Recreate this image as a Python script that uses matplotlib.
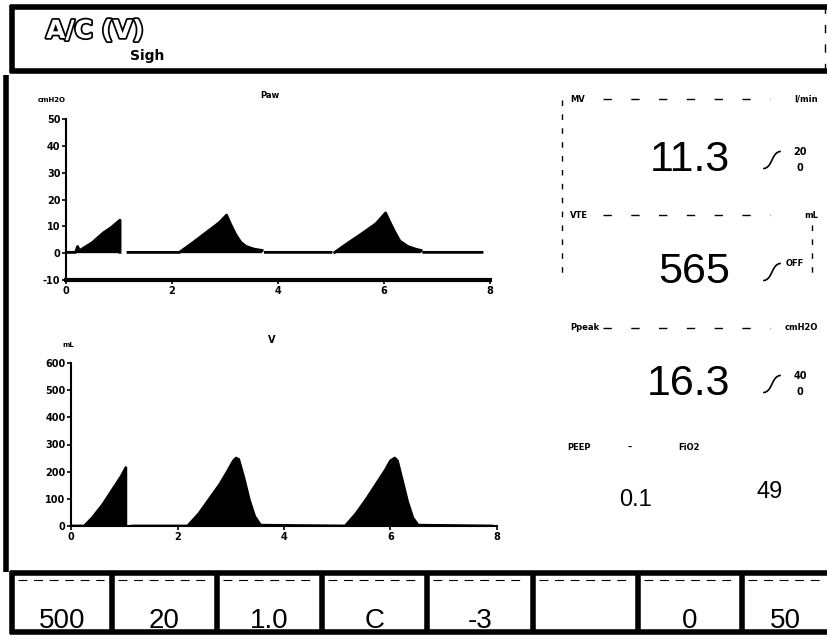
import numpy as np
import matplotlib
matplotlib.use('Agg')
import matplotlib.pyplot as plt
import matplotlib.patheffects as pe

nan = np.nan

# Airway pressure waveform (cmH2O), NaN marks gaps in the trace
paw_time = [0.0, 0.18, 0.22, 0.25, 0.3, 0.5, 0.7, 0.85, 1.0, 1.02, 1.02, nan,
            1.17, 2.14, 2.4, 2.7, 2.9, 3.03, 3.1, 3.2, 3.3, 3.4, 3.55, 3.7, nan,
            3.76, 5.0, nan,
            5.07, 5.3, 5.6, 5.85, 6.03, 6.1, 6.2, 6.3, 6.45, 6.6, 6.7, nan,
            6.75, 7.85]
paw_value = [0.3, 0.3, 2.5, 1.0, 1.5, 4.0, 7.5, 9.5, 12.0, 12.3, 0.3, nan,
             0.3, 0.3, 4.0, 8.5, 11.5, 14.2, 11.0, 7.0, 4.0, 2.5, 1.5, 1.0, nan,
             0.3, 0.3, nan,
             0.3, 3.5, 7.5, 11.0, 15.0, 12.0, 8.0, 4.5, 2.5, 1.5, 1.0, nan,
             0.3, 0.3]

# Volume waveform (mL)
vol_time = [0.0, 0.25, 0.4, 0.6, 0.8, 0.95, 1.03, 1.03, nan,
            1.16, 2.19, 2.4, 2.6, 2.8, 2.95, 3.05, 3.1, 3.15, 3.25, 3.35, 3.45, 3.56, 5.15,
            5.35, 5.55, 5.75, 5.9, 6.0, 6.08, 6.13, 6.22, 6.32, 6.42, 6.52, 7.9]
vol_value = [0, 0, 30, 80, 140, 185, 215, 0, nan,
             0, 0, 45, 100, 155, 205, 240, 250, 245, 175, 95, 35, 3, 0,
             45, 100, 160, 205, 240, 250, 240, 170, 90, 30, 3, 0]

paw_yticks = [-10, 0, 10, 20, 30, 40, 50]
vol_yticks = [0, 100, 200, 300, 400, 500, 600]
time_ticks = [0, 2, 4, 6, 8]

# monitored parameters (right panel)
param_names = ['MV', 'VTE', 'Ppeak']
param_units = ['l/min', 'mL', 'cmH2O']
param_values = ['11.3', '565', '16.3']
param_limits = [('20', '0'), ('OFF', ''), ('40', '0')]
peep_value = '0.1'
fio2_value = '49'

# settings buttons along the bottom
button_values = ['500', '20', '1.0', 'C', '-3', '', '0', '50']

W, H = 828, 635
fig = plt.figure(figsize=(W / 100, H / 100), dpi=100)

# overlay in pixel coordinates for the screen frame and panel text
bg = fig.add_axes([0, 0, 1, 1], zorder=0)
bg.set_xlim(0, W)
bg.set_ylim(H, 0)
bg.axis('off')

def hline(x0, x1, y, lw=1.0, ls='-'):
    bg.plot([x0, x1], [y, y], color='black', lw=lw, ls=ls, solid_capstyle='butt')

def vline(x, y0, y1, lw=1.0, ls='-'):
    bg.plot([x, x], [y0, y1], color='black', lw=lw, ls=ls, solid_capstyle='butt')

# header
hline(10, W, 7, lw=4)
hline(10, W, 71, lw=4)
vline(12, 5, 73, lw=4)
vline(825, 5, 73, lw=1, ls=(0, (6, 8)))
bg.text(46, 31, 'A/C (V)', fontsize=18, fontweight='bold', color='white',
        family='DejaVu Sans', va='center', ha='left',
        path_effects=[pe.withStroke(linewidth=2.5, foreground='black')])
bg.text(130, 56, 'Sigh', fontsize=10, fontweight='bold', color='black',
        va='center', ha='left')

# left border of main area
vline(6, 75, 572, lw=4)

# right panel
vline(562, 100, 275, lw=1, ls=(0, (4, 6)))
vline(812, 225, 275, lw=1, ls=(0, (4, 6)))
small = dict(fontsize=6, fontweight='bold', va='center')
row_y = [99, 215, 328]
val_y = [160, 272, 384]
for name, unit, value, lim, ry, vy in zip(param_names, param_units, param_values,
                                          param_limits, row_y, val_y):
    bg.text(570, ry, name, ha='left', **small)
    hline(603, 770, ry, lw=1, ls=(0, (6, 14)))
    bg.text(818, ry, unit, ha='right', **small)
    bg.text(730, vy, value, fontsize=31, family='Liberation Sans', ha='right', va='center')
    # alarm-limit symbol
    xs = np.linspace(764, 780, 20)
    bg.plot(xs, vy + 9 - 18 / (1 + np.exp(-(xs - 772) / 2.2)), color='black', lw=1.2)
    if lim[1]:
        bg.text(800, vy - 8, lim[0], fontsize=7, fontweight='bold', ha='center', va='center')
        bg.text(800, vy + 8, lim[1], fontsize=7, fontweight='bold', ha='center', va='center')
    else:
        bg.text(795, vy - 8, lim[0], fontsize=6, fontweight='bold', ha='center', va='center')

bg.text(567, 447, 'PEEP', ha='left', **small)
bg.text(630, 447, '–', ha='center', **small)
bg.text(678, 447, 'FiO2', ha='left', **small)
bg.text(636, 500, peep_value, fontsize=17, family='Liberation Sans', ha='center', va='center')
bg.text(770, 492, fio2_value, fontsize=17, family='Liberation Sans', ha='center', va='center')

# plot titles and units
bg.text(270, 95, 'Paw', fontsize=6, fontweight='bold', ha='center', va='center')
bg.text(52, 100, 'cmH2O', fontsize=5, fontweight='bold', ha='center', va='center')
bg.text(272, 340, 'V', fontsize=7, fontweight='bold', ha='center', va='center')
bg.text(68, 345, 'mL', fontsize=5, fontweight='bold', ha='center', va='center')

# bottom buttons
hline(10, W, 573, lw=4)
hline(10, W, 632, lw=4)
seps = [12, 112, 217, 322, 427, 533, 638, 742]
for sx in seps:
    vline(sx, 571, 634, lw=4)
for i, val in enumerate(button_values):
    x0 = seps[i]
    x1 = seps[i + 1] if i + 1 < len(seps) else W
    hline(x0 + 6, x1 - 8, 580, lw=0.8, ls=(0, (8, 6)))
    bg.text((x0 + x1) / 2, 621, val, fontsize=20, family='Liberation Sans',
            ha='center', va='center')

def fig_rect(x0, x1, y_top, y_bot):
    return [x0 / W, 1 - y_bot / H, (x1 - x0) / W, (y_bot - y_top) / H]

tick_font = dict(fontsize=7, fontweight='bold')

# pressure plot
ax1 = fig.add_axes(fig_rect(66, 490, 119, 280), zorder=2)
ax1.patch.set_visible(False)
ax1.fill_between(paw_time, 0, paw_value, color='black', lw=0)
ax1.plot(paw_time, paw_value, color='black', lw=2)
ax1.set_xlim(0, 8)
ax1.set_ylim(-10, 50)
ax1.set_yticks(paw_yticks)
ax1.set_yticklabels([str(v) for v in paw_yticks], **tick_font)
ax1.set_xticks(time_ticks)
ax1.set_xticklabels([str(v) for v in time_ticks], **tick_font)

# volume plot
ax2 = fig.add_axes(fig_rect(71, 497, 363, 526), zorder=2)
ax2.patch.set_visible(False)
ax2.fill_between(vol_time, 0, vol_value, color='black', lw=0)
ax2.plot(vol_time, vol_value, color='black', lw=2)
ax2.set_xlim(0, 8)
ax2.set_ylim(0, 600)
ax2.set_yticks(vol_yticks)
ax2.set_yticklabels([str(v) for v in vol_yticks], **tick_font)
ax2.set_xticks(time_ticks)
ax2.set_xticklabels([str(v) for v in time_ticks], **tick_font)

for ax, bottom_lw in [(ax1, 3), (ax2, 1.5)]:
    ax.spines['top'].set_visible(False)
    ax.spines['right'].set_visible(False)
    ax.spines['left'].set_linewidth(1.5)
    ax.spines['bottom'].set_linewidth(bottom_lw)
    ax.tick_params(direction='out', length=3, width=1.2, pad=1)

fig.savefig('out.png', dpi=100)
